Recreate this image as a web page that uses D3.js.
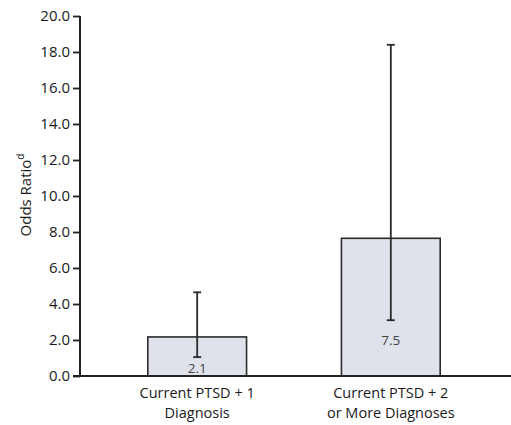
<!DOCTYPE html>
<html><head><meta charset="utf-8">
<script src="https://cdn.jsdelivr.net/npm/d3@7"></script>
<style>body{margin:0;background:#fff}svg{display:block}</style>
</head><body>
<svg id="c" width="511" height="425"></svg>
<script>
const categories = [["Current PTSD + 1","Diagnosis"],["Current PTSD + 2","or More Diagnoses"]];
const barValues = [2.17, 7.65];
const valueLabels = ["2.1","7.5"];
const ciLow = [1.05, 3.1];
const ciHigh = [4.65, 18.4];
const yTicks = [0,2,4,6,8,10,12,14,16,18,20];

const svg = d3.select("#c");
const font = "'Open Sans', sans-serif";
const y = d3.scaleLinear().domain([0,20]).range([376,16]);
const x = d3.scaleBand().domain(d3.range(categories.length)).range([81,507]).paddingInner(0.49).paddingOuter(0.345);

// bars
svg.selectAll("rect.bar").data(barValues).join("rect")
  .attr("x",(d,i)=>x(i)).attr("width",x.bandwidth())
  .attr("y",d=>y(d)).attr("height",d=>y(0)-y(d))
  .attr("fill","#dfe2ea").attr("stroke","#2a2a2a").attr("stroke-width",1.6);

// error bars
const cx = i => x(i)+x.bandwidth()/2;
svg.selectAll("line.err").data(barValues).join("line")
  .attr("x1",(d,i)=>cx(i)).attr("x2",(d,i)=>cx(i))
  .attr("y1",(d,i)=>y(ciLow[i])).attr("y2",(d,i)=>y(ciHigh[i]))
  .attr("stroke","#2a2a2a").attr("stroke-width",1.8);
[ciLow, ciHigh].forEach(arr=>{
  svg.selectAll(null).data(arr).join("line")
    .attr("x1",(d,i)=>cx(i)-4).attr("x2",(d,i)=>cx(i)+4)
    .attr("y1",d=>y(d)).attr("y2",d=>y(d))
    .attr("stroke","#2a2a2a").attr("stroke-width",1.8);
});

// value labels
svg.selectAll("text.val").data(valueLabels).join("text")
  .attr("x",(d,i)=>cx(i)).attr("y",(d,i)=>Math.min(y(ciLow[i])+25, y(0)-3))
  .attr("text-anchor","middle").attr("font-family",font).attr("font-size",13.5)
  .attr("fill","#444").text(d=>d);

// y axis
const yAxis = d3.axisLeft(y).tickValues(yTicks).tickFormat(d3.format(".1f")).tickSize(7).tickPadding(3);
const gy = svg.append("g").attr("transform","translate(80,0)").call(yAxis);
gy.select(".domain").attr("stroke","#222").attr("stroke-width",2).attr("d","M0,16V376");
gy.selectAll(".tick line").attr("stroke","#222").attr("stroke-width",1.8);
gy.selectAll(".tick text").attr("font-family",font).attr("font-size",15).attr("fill","#1a1a1a");

// x axis line
svg.append("line").attr("x1",73).attr("x2",511).attr("y1",y(0)).attr("y2",y(0))
  .attr("stroke","#222").attr("stroke-width",2);

// category labels
categories.forEach((lines,i)=>{
  lines.forEach((l,j)=>svg.append("text").attr("text-anchor","middle").attr("font-family",font)
    .attr("font-size",14.5).attr("fill","#1a1a1a")
    .attr("x",cx(i)).attr("y",398+j*20).text(l));
});

// y title
const yt = svg.append("text").attr("transform","translate(31,195) rotate(-90)")
  .attr("text-anchor","middle").attr("font-family",font).attr("font-size",15).attr("fill","#1a1a1a");
yt.append("tspan").text("Odds Ratio");
yt.append("tspan").attr("font-size",10).attr("dy",-7).text("d");
</script>
</body></html>
